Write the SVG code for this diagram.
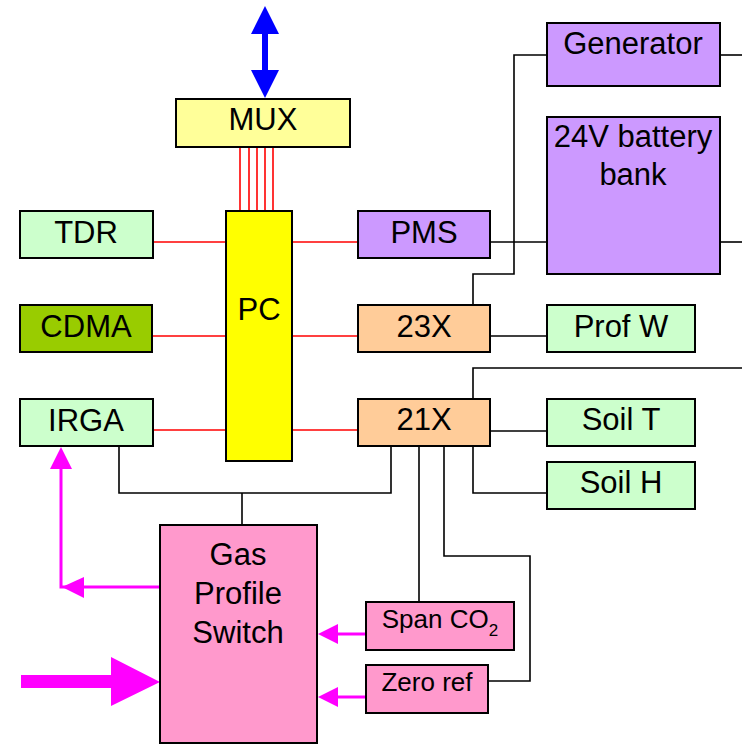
<svg xmlns="http://www.w3.org/2000/svg" width="742" height="744" viewBox="0 0 742 744">
<defs>
<style>
.box{stroke:#000;stroke-width:2}
.g{fill:#CCFFCC}.p{fill:#CC99FF}.o{fill:#FFCC99}.k{fill:#FF99CC}
text{font-family:"Liberation Sans",Arial,sans-serif;font-size:31px;fill:#000;text-anchor:middle}
.sm{font-size:26px}
.bl{stroke:#000;stroke-width:1.6;fill:none}
.rd{stroke:#FF0000;stroke-width:1.6;fill:none}
.mg{stroke:#FF00FF;stroke-width:3;fill:none}
</style>
</defs>
<g id="connectors">
<line class="rd" x1="240" y1="147" x2="240" y2="211"/>
<line class="rd" x1="249" y1="147" x2="249" y2="211"/>
<line class="rd" x1="257" y1="147" x2="257" y2="211"/>
<line class="rd" x1="265" y1="147" x2="265" y2="211"/>
<line class="rd" x1="273" y1="147" x2="273" y2="211"/>
<line class="rd" x1="153" y1="242" x2="226" y2="242"/>
<line class="rd" x1="152" y1="336" x2="226" y2="336"/>
<line class="rd" x1="153" y1="430" x2="226" y2="430"/>
<line class="rd" x1="292" y1="242" x2="358" y2="242"/>
<line class="rd" x1="292" y1="336" x2="358" y2="336"/>
<line class="rd" x1="292" y1="430" x2="358" y2="430"/>
<polyline class="bl" points="547,55 514,55 514,274 473,274 473,305"/>
<line class="bl" x1="720" y1="55" x2="742" y2="55"/>
<line class="bl" x1="720" y1="242" x2="742" y2="242"/>
<line class="bl" x1="490" y1="242" x2="547" y2="242"/>
<line class="bl" x1="490" y1="336" x2="547" y2="336"/>
<polyline class="bl" points="473,399 473,368 742,368"/>
<line class="bl" x1="490" y1="431" x2="547" y2="431"/>
<polyline class="bl" points="473,447 473,493 547,493"/>
<polyline class="bl" points="391,447 391,493 119,493 119,446"/>
<line class="bl" x1="242" y1="493" x2="242" y2="525"/>
<line class="bl" x1="419" y1="447" x2="419" y2="602"/>
<polyline class="bl" points="444,447 444,556 530,556 530,681 488,681"/>
<polygon fill="#0000FF" points="265,6 279,34 268,34 268,70 279,70 265,98 251,70 262,70 262,34 251,34"/>
<polyline class="mg" points="160,587 61,587 61,467"/>
<polygon fill="#FF00FF" points="61,447 72,469 50,469"/>
<polygon fill="#FF00FF" points="62,587 84,577 84,598"/>
<line class="mg" x1="366" y1="634" x2="336" y2="634"/>
<polygon fill="#FF00FF" points="318,634 338,624 338,644"/>
<line class="mg" x1="366" y1="697" x2="336" y2="697"/>
<polygon fill="#FF00FF" points="318,697 338,687 338,707"/>
<polygon fill="#FF00FF" points="21,675 111,675 111,657 160,682 111,706 111,688 21,688"/>
</g>
<g id="MUX"><rect class="box" x="176" y="99" width="174" height="48" fill="#FFFF99"/><text x="263" y="130">MUX</text></g>
<g id="PC"><rect class="box" x="226" y="211" width="66" height="250" fill="#FFFF00"/><text x="259" y="320">PC</text></g>
<g id="TDR"><rect class="box g" x="20" y="211" width="133" height="47"/><text x="86" y="243">TDR</text></g>
<g id="CDMA"><rect class="box" x="20" y="305" width="132" height="47" fill="#99CC00"/><text x="86" y="337">CDMA</text></g>
<g id="IRGA"><rect class="box g" x="20" y="399" width="133" height="47"/><text x="86" y="431">IRGA</text></g>
<g id="PMS"><rect class="box p" x="358" y="211" width="132" height="47"/><text x="424" y="243">PMS</text></g>
<g id="n23X"><rect class="box o" x="358" y="305" width="132" height="47"/><text x="424" y="337">23X</text></g>
<g id="n21X"><rect class="box o" x="358" y="399" width="132" height="47"/><text x="424" y="430">21X</text></g>
<g id="Generator"><rect class="box p" x="547" y="23" width="173" height="63"/><text x="633" y="54">Generator</text></g>
<g id="Battery"><rect class="box p" x="547" y="117" width="173" height="157"/><text x="633" y="147">24V battery</text><text x="633" y="185">bank</text></g>
<g id="ProfW"><rect class="box g" x="547" y="305" width="148" height="47"/><text x="621" y="337">Prof W</text></g>
<g id="SoilT"><rect class="box g" x="547" y="399" width="148" height="47"/><text x="621" y="430">Soil T</text></g>
<g id="SoilH"><rect class="box g" x="547" y="462" width="148" height="47"/><text x="621" y="493">Soil H</text></g>
<g id="GasSwitch"><rect class="box k" x="160" y="525" width="157" height="218"/><text x="238" y="565">Gas</text><text x="238" y="604">Profile</text><text x="238" y="643">Switch</text></g>
<g id="SpanCO2"><rect class="box k" x="366" y="602" width="148" height="48"/><text class="sm" x="440" y="628">Span CO<tspan font-size="17" dy="8">2</tspan></text></g>
<g id="ZeroRef"><rect class="box k" x="366" y="665" width="122" height="48"/><text class="sm" x="427" y="691">Zero ref</text></g>
</svg>
